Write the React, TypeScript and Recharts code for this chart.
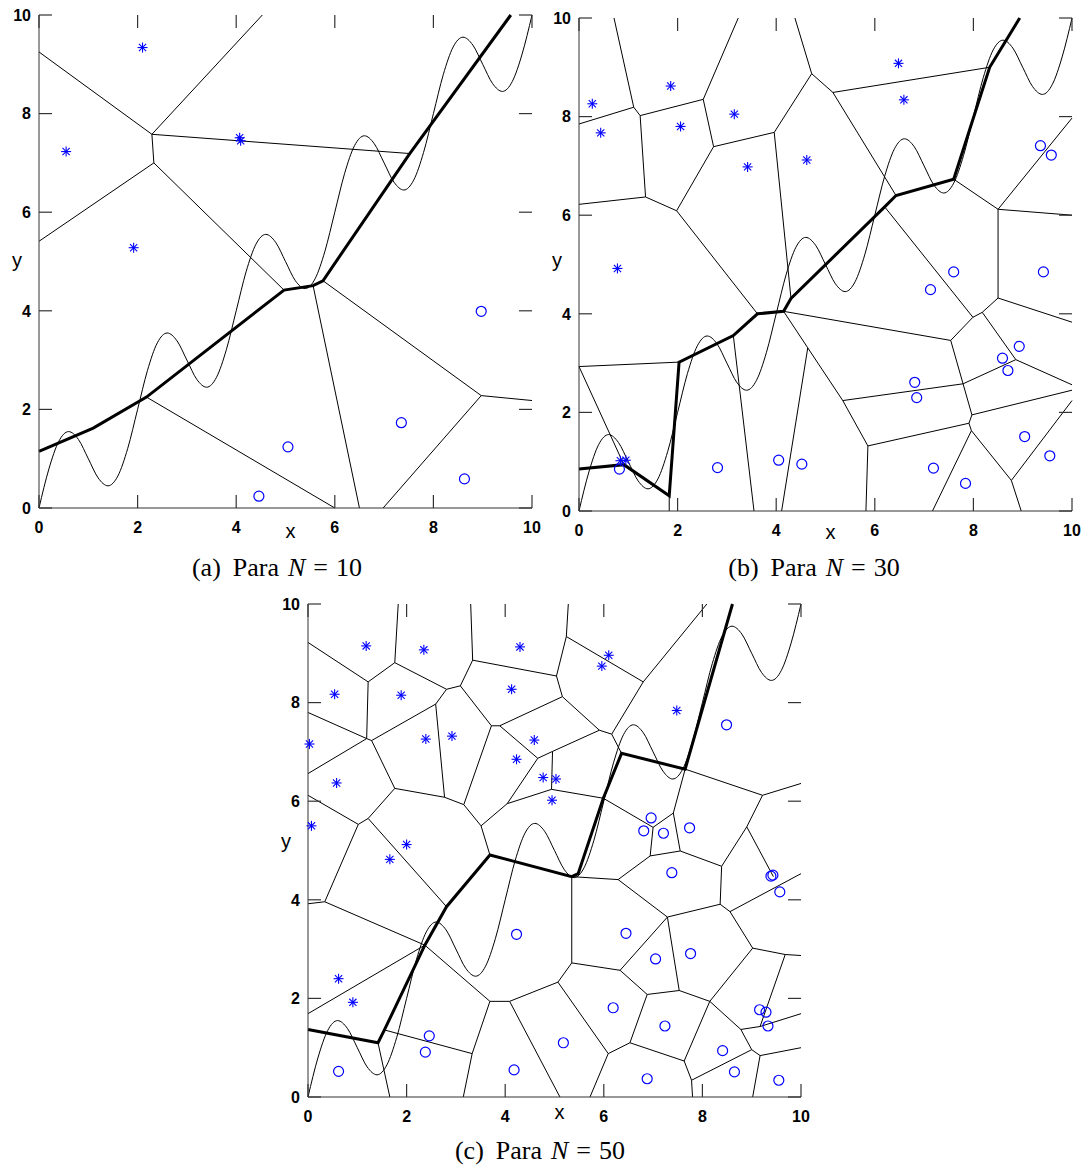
import { ComposedChart, XAxis, YAxis, Line, Scatter, ReferenceLine } from 'recharts'

type Seg = [number, number, number, number]
type Pt = [number, number]

const TICKS = [0, 2, 4, 6, 8, 10]

// thin wavy curve (same in all three panels)
const CURVE_X = [
  0, 0.2, 0.4, 0.6, 0.8, 1, 1.2, 1.4, 1.6, 1.8, 2, 2.2, 2.4, 2.6, 2.8, 3, 3.2, 3.4, 3.6, 3.8, 4, 4.2, 4.4, 4.6, 4.8,
  5, 5.2, 5.4, 5.6, 5.8, 6, 6.2, 6.4, 6.6, 6.8, 7, 7.2, 7.4, 7.6, 7.8, 8, 8.2, 8.4, 8.6, 8.8, 9, 9.2, 9.4, 9.6, 9.8, 10,
]
const CURVE_Y = [
  0, 0.79, 1.35, 1.55, 1.39, 1.0, 0.61, 0.45, 0.65, 1.21, 2.0, 2.79, 3.35, 3.55, 3.39, 3.0, 2.61, 2.45, 2.65, 3.21,
  4.0, 4.79, 5.35, 5.55, 5.39, 5.0, 4.61, 4.45, 4.65, 5.21, 6.0, 6.79, 7.35, 7.55, 7.39, 7.0, 6.61, 6.45, 6.65, 7.21,
  8.0, 8.79, 9.35, 9.55, 9.39, 9.0, 8.61, 8.45, 8.65, 9.21, 10,
]

// ---------- (a) N = 10 ----------
const EDGES_A: Seg[] = [
  [0, 9.25, 2.29, 7.58],
  [2.29, 7.58, 4.53, 10],
  [2.29, 7.58, 7.52, 7.19],
  [2.29, 7.58, 2.33, 7.0],
  [2.33, 7.0, 0, 5.41],
  [2.33, 7.0, 4.97, 4.42],
  [2.18, 2.25, 6.0, 0],
  [5.56, 4.51, 6.5, 0],
  [5.76, 4.61, 8.97, 2.28],
  [8.97, 2.28, 10, 2.18],
  [8.97, 2.28, 6.98, 0],
]
const PATH_A: Pt[] = [
  [0, 1.15], [1.1, 1.62], [2.18, 2.25], [4.97, 4.42], [5.56, 4.51], [5.76, 4.61], [7.52, 7.19], [9.57, 10],
]
const STARS_A: Pt[] = [[0.55, 7.23], [2.1, 9.34], [4.07, 7.51], [4.09, 7.45], [1.92, 5.28]]
const CIRCLES_A: Pt[] = [[8.97, 3.99], [7.35, 1.73], [8.63, 0.59], [5.05, 1.24], [4.46, 0.24]]

// ---------- (b) N = 30 ----------
const EDGES_B: Seg[] = [
  [0.71, 10, 1.11, 8.19],
  [0, 7.85, 1.11, 8.19],
  [1.11, 8.19, 1.24, 8.02],
  [1.24, 8.02, 2.52, 8.35],
  [2.52, 8.35, 3.23, 10],
  [2.52, 8.35, 2.73, 7.39],
  [2.73, 7.39, 3.96, 7.68],
  [3.96, 7.68, 4.72, 8.87],
  [4.72, 8.87, 4.38, 10],
  [4.72, 8.87, 5.15, 8.49],
  [2.73, 7.39, 1.98, 6.09],
  [1.24, 8.02, 1.35, 6.37],
  [1.35, 6.37, 0, 6.22],
  [1.35, 6.37, 1.98, 6.09],
  [1.98, 6.09, 3.62, 4.0],
  [3.96, 7.68, 4.3, 4.31],
  [5.15, 8.49, 8.33, 9.0],
  [5.15, 8.49, 6.43, 6.4],
  [6.2, 6.17, 7.99, 3.93],
  [7.6, 6.73, 8.5, 6.12],
  [8.5, 6.12, 10, 7.97],
  [8.5, 6.12, 10, 6.0],
  [8.5, 6.12, 8.5, 4.32],
  [8.5, 4.32, 10, 3.83],
  [8.5, 4.32, 8.18, 4.03],
  [8.18, 4.03, 7.99, 3.93],
  [7.99, 3.93, 7.54, 3.46],
  [7.54, 3.46, 4.15, 4.05],
  [7.54, 3.46, 7.79, 2.58],
  [7.79, 2.58, 8.86, 3.07],
  [8.86, 3.07, 8.18, 4.03],
  [8.86, 3.07, 10, 2.56],
  [7.79, 2.58, 5.35, 2.24],
  [5.35, 2.24, 4.64, 3.31],
  [4.64, 3.31, 4.15, 4.05],
  [4.64, 3.31, 4.11, 0],
  [5.35, 2.24, 5.86, 1.32],
  [5.86, 1.32, 5.82, 0],
  [5.86, 1.32, 7.91, 1.78],
  [7.91, 1.78, 7.97, 1.95],
  [7.97, 1.95, 7.79, 2.58],
  [7.97, 1.95, 10, 2.45],
  [7.91, 1.78, 7.96, 1.63],
  [7.96, 1.63, 7.17, 0],
  [7.96, 1.63, 8.77, 0.62],
  [8.77, 0.62, 8.97, 0],
  [8.77, 0.62, 10, 2.24],
  [0, 2.93, 2.03, 3.02],
  [0, 2.93, 0.91, 0.94],
  [1.83, 0.31, 1.83, 0],
  [3.13, 3.56, 3.55, 0],
]
const PATH_B: Pt[] = [
  [0, 0.85], [0.91, 0.94], [1.83, 0.31], [2.03, 3.02], [3.13, 3.56], [3.62, 4.0], [4.15, 4.05], [4.3, 4.31],
  [6.2, 6.17], [6.43, 6.4], [7.6, 6.73], [8.33, 9.0], [8.94, 10],
]
const STARS_B: Pt[] = [
  [0.27, 8.26], [0.44, 7.67], [1.86, 8.62], [2.06, 7.8], [3.15, 8.05], [3.42, 6.98], [4.62, 7.12], [6.48, 9.08],
  [6.59, 8.34], [0.78, 4.92], [0.84, 1.02], [0.95, 1.03],
]
const CIRCLES_B: Pt[] = [
  [0.82, 0.85], [2.81, 0.88], [4.05, 1.03], [4.52, 0.95], [9.36, 7.41], [9.58, 7.22], [7.6, 4.85], [7.13, 4.49],
  [9.42, 4.85], [8.93, 3.34], [8.59, 3.1], [8.7, 2.85], [6.81, 2.61], [6.85, 2.3], [9.04, 1.51], [9.55, 1.12],
  [7.19, 0.87], [7.84, 0.56],
]

// ---------- (c) N = 50 ----------
const EDGES_C: Seg[] = [
  [0, 9.22, 1.22, 8.42],
  [1.22, 8.42, 1.76, 8.81],
  [1.76, 8.81, 1.83, 10],
  [1.76, 8.81, 2.81, 8.27],
  [2.81, 8.27, 3.09, 8.34],
  [3.09, 8.34, 3.34, 8.86],
  [3.34, 8.86, 3.3, 10],
  [3.34, 8.86, 5.04, 8.54],
  [1.22, 8.42, 1.19, 7.27],
  [1.19, 7.27, 0, 7.8],
  [1.19, 7.27, 0, 6.56],
  [1.19, 7.27, 1.29, 7.23],
  [1.29, 7.23, 2.59, 7.97],
  [2.59, 7.97, 2.81, 8.27],
  [2.59, 7.97, 2.77, 6.08],
  [1.29, 7.23, 1.76, 6.26],
  [1.76, 6.26, 2.77, 6.08],
  [1.76, 6.26, 1.22, 5.65],
  [1.22, 5.65, 1.02, 5.53],
  [1.02, 5.53, 0, 6.12],
  [1.02, 5.53, 0.34, 3.96],
  [1.22, 5.65, 2.81, 3.86],
  [2.77, 6.08, 3.16, 5.93],
  [3.16, 5.93, 3.72, 7.53],
  [3.72, 7.53, 3.09, 8.34],
  [3.72, 7.53, 3.89, 7.53],
  [3.89, 7.53, 4.66, 6.87],
  [3.89, 7.53, 5.16, 8.12],
  [3.16, 5.93, 3.51, 5.5],
  [3.51, 5.5, 4.04, 5.95],
  [3.51, 5.5, 3.69, 4.91],
  [4.04, 5.95, 4.66, 6.87],
  [4.04, 5.95, 4.94, 6.24],
  [4.66, 6.87, 4.96, 7.01],
  [4.96, 7.01, 5.91, 7.44],
  [4.96, 7.01, 4.94, 6.24],
  [4.94, 6.24, 5.99, 6.06],
  [5.28, 10, 5.24, 9.34],
  [5.24, 9.34, 6.8, 8.42],
  [5.24, 9.34, 5.04, 8.54],
  [5.04, 8.54, 5.16, 8.12],
  [5.16, 8.12, 5.91, 7.44],
  [5.91, 7.44, 6.16, 7.36],
  [6.16, 7.36, 6.8, 8.42],
  [6.8, 8.42, 8.09, 10],
  [6.16, 7.36, 6.36, 6.97],
  [7.65, 6.65, 9.22, 6.12],
  [9.22, 6.12, 10, 6.36],
  [9.22, 6.12, 8.9, 5.48],
  [7.65, 6.65, 7.41, 5.76],
  [7.41, 5.76, 7.0, 5.47],
  [7.0, 5.47, 5.99, 6.06],
  [7.0, 5.47, 6.94, 4.89],
  [7.41, 5.76, 7.55, 4.99],
  [8.9, 5.48, 8.39, 4.68],
  [8.9, 5.48, 9.44, 4.47],
  [0.34, 3.96, 0, 3.92],
  [0.34, 3.96, 2.37, 3.08],
  [0, 1.69, 2.37, 3.08],
  [2.37, 3.08, 3.69, 1.94],
  [3.69, 1.94, 4.09, 1.94],
  [3.69, 1.94, 3.33, 0.88],
  [3.33, 0.88, 3.15, 0],
  [3.33, 0.88, 1.55, 1.36],
  [1.42, 1.1, 1.66, 0],
  [4.09, 1.94, 5.11, 0],
  [4.09, 1.94, 5.07, 2.33],
  [5.35, 4.47, 5.35, 2.72],
  [5.35, 4.47, 6.29, 4.41],
  [6.29, 4.41, 6.94, 4.89],
  [6.94, 4.89, 7.55, 4.99],
  [7.55, 4.99, 8.39, 4.68],
  [8.39, 4.68, 8.36, 3.91],
  [8.36, 3.91, 7.29, 3.65],
  [7.29, 3.65, 6.29, 4.41],
  [8.36, 3.91, 8.56, 3.76],
  [8.56, 3.76, 10, 4.53],
  [8.56, 3.76, 9.02, 3.02],
  [9.02, 3.02, 9.68, 2.89],
  [9.68, 2.89, 10, 2.87],
  [9.02, 3.02, 8.15, 1.94],
  [8.15, 1.94, 7.53, 2.16],
  [7.53, 2.16, 7.29, 3.65],
  [7.53, 2.16, 6.88, 2.08],
  [6.88, 2.08, 6.33, 2.57],
  [6.33, 2.57, 7.29, 3.65],
  [6.33, 2.57, 5.35, 2.72],
  [5.35, 2.72, 5.07, 2.33],
  [5.07, 2.33, 6.09, 0.88],
  [6.09, 0.88, 5.72, 0],
  [6.09, 0.88, 6.53, 1.1],
  [6.53, 1.1, 6.88, 2.08],
  [6.53, 1.1, 7.63, 0.73],
  [7.63, 0.73, 8.15, 1.94],
  [7.63, 0.73, 7.78, 0.34],
  [7.78, 0.34, 7.8, 0],
  [7.78, 0.34, 9.0, 0.96],
  [8.15, 1.94, 8.78, 1.37],
  [8.78, 1.37, 9.0, 0.96],
  [9.0, 0.96, 9.17, 0.84],
  [9.17, 0.84, 9.02, 0],
  [9.17, 0.84, 10, 1.0],
  [8.78, 1.37, 9.17, 1.43],
  [9.17, 1.43, 10, 1.69],
  [9.17, 1.43, 9.68, 2.89],
]
const PATH_C: Pt[] = [
  [0, 1.37], [1.42, 1.1], [1.55, 1.36], [2.37, 3.08], [2.81, 3.86], [3.69, 4.91], [5.35, 4.47], [5.48, 4.53],
  [5.99, 6.06], [6.36, 6.97], [7.65, 6.65], [8.61, 10],
]
const STARS_C: Pt[] = [
  [1.18, 9.15], [2.35, 9.07], [4.3, 9.13], [0.54, 8.17], [1.89, 8.15], [4.13, 8.27], [0.03, 7.16], [2.39, 7.26],
  [2.92, 7.32], [4.59, 7.24], [4.23, 6.85], [4.77, 6.48], [0.58, 6.37], [0.07, 5.5], [2.0, 5.12], [6.1, 8.96],
  [5.96, 8.74], [7.48, 7.84], [5.03, 6.45], [4.95, 6.02], [1.66, 4.82], [0.62, 2.4], [0.91, 1.92],
]
const CIRCLES_C: Pt[] = [
  [8.49, 7.55], [6.96, 5.66], [6.81, 5.4], [7.21, 5.35], [7.74, 5.46], [4.23, 3.3], [2.46, 1.24], [2.38, 0.91],
  [0.62, 0.52], [4.18, 0.55], [7.38, 4.55], [9.39, 4.48], [9.43, 4.5], [9.57, 4.16], [6.45, 3.32], [7.05, 2.8],
  [7.76, 2.91], [6.19, 1.81], [7.24, 1.44], [5.18, 1.1], [8.41, 0.94], [8.65, 0.51], [6.88, 0.37], [9.55, 0.34],
  [9.16, 1.77], [9.29, 1.72], [9.33, 1.44],
]

const FRAME = '#333'
const BLUE = '#0000ff'
const PLOT = 493
const TICK = 13 // inward tick length, px
const SANS = '"Liberation Sans", Arial, sans-serif'
const SERIF = '"Liberation Serif", "Times New Roman", serif'

const curveData = CURVE_X.map((x, i) => ({ x, y: CURVE_Y[i] }))
const toXY = (pts: Pt[]) => pts.map(([x, y]) => ({ x, y }))

// inward tick marks on bottom, top and right; (dx, dy) points into the plot
const frameTicks = [
  ...TICKS.map((t) => ({ x: t, y: 0, dx: 0, dy: -1 })),
  ...TICKS.map((t) => ({ x: t, y: 10, dx: 0, dy: 1 })),
  ...TICKS.map((t) => ({ x: 10, y: t, dx: -1, dy: 0 })),
]

function FrameTick(p: any) {
  const d = p.payload ?? p
  return <line x1={p.cx} y1={p.cy} x2={p.cx + d.dx * TICK} y2={p.cy + d.dy * TICK} stroke={FRAME} strokeWidth={1.2} />
}

function Star(props: any) {
  const { cx, cy } = props
  const d = 3.6
  return (
    <g stroke={BLUE} strokeWidth={1.1}>
      <line x1={cx - 5} y1={cy} x2={cx + 5} y2={cy} />
      <line x1={cx} y1={cy - 5} x2={cx} y2={cy + 5} />
      <line x1={cx - d} y1={cy - d} x2={cx + d} y2={cy + d} />
      <line x1={cx - d} y1={cy + d} x2={cx + d} y2={cy - d} />
    </g>
  )
}

function Ring(props: any) {
  return <circle cx={props.cx} cy={props.cy} r={5} fill="none" stroke={BLUE} strokeWidth={1.2} />
}

function XTick(props: any) {
  return (
    <text x={props.x} y={props.y} dy="0.71em" textAnchor="middle" fontSize={16} fontWeight={700} fontFamily={SANS} fill="#000">
      {props.payload.value}
    </text>
  )
}

function YTick(props: any) {
  return (
    <text x={props.x} y={props.y} dy="0.36em" textAnchor="end" fontSize={16} fontWeight={700} fontFamily={SANS} fill="#000">
      {props.payload.value}
    </text>
  )
}

interface PanelProps {
  left: number
  top: number
  edges: Seg[]
  path: Pt[]
  stars: Pt[]
  circles: Pt[]
  xLetterDy: number
  yLetterDy: number
}

function Panel({ left, top, edges, path, stars, circles, xLetterDy, yLetterDy }: PanelProps) {
  const xLetter = (p: any) => (
    <text x={p.viewBox.x + p.viewBox.width * 0.51} y={p.viewBox.y + xLetterDy} textAnchor="middle" fontSize={20} fontFamily={SANS} fill="#000">
      x
    </text>
  )
  // the y letter, plus the left-side inward ticks laid along the y axis box
  const yLetter = (p: any) => {
    const { x, y, width, height } = p.viewBox
    const ax = x + width
    return (
      <g>
        {TICKS.map((t) => (
          <line key={t} x1={ax} y1={y + height * (1 - t / 10)} x2={ax + TICK} y2={y + height * (1 - t / 10)} stroke={FRAME} strokeWidth={1.2} />
        ))}
        <text x={ax - 22} y={y + yLetterDy} textAnchor="middle" fontSize={20} fontFamily={SANS} fill="#000">
          y
        </text>
      </g>
    )
  }
  return (
    <div style={{ position: 'absolute', left: left - 40, top: top - 10 }}>
      <ComposedChart width={40 + PLOT + 10} height={10 + PLOT + 45} margin={{ top: 10, right: 10, bottom: 5, left: 0 }}>
        <XAxis
          type="number"
          dataKey="x"
          domain={[0, 10]}
          ticks={TICKS}
          interval={0}
          height={40}
          tickSize={0}
          tickMargin={14}
          tick={XTick}
          tickLine={false}
          axisLine={{ stroke: FRAME }}
          label={xLetter}
        />
        <XAxis xAxisId="top" orientation="top" type="number" domain={[0, 10]} height={0} tick={false} tickLine={false} axisLine={{ stroke: FRAME }} />
        <YAxis
          type="number"
          dataKey="y"
          domain={[0, 10]}
          ticks={TICKS}
          interval={0}
          width={40}
          tickSize={0}
          tickMargin={8}
          tick={YTick}
          tickLine={false}
          axisLine={{ stroke: FRAME }}
          label={yLetter}
        />
        <YAxis yAxisId="right" orientation="right" type="number" domain={[0, 10]} width={0} tick={false} tickLine={false} axisLine={{ stroke: FRAME }} />
        {edges.map(([x1, y1, x2, y2], i) => (
          <ReferenceLine
            key={i}
            segment={[{ x: x1, y: y1 }, { x: x2, y: y2 }]}
            stroke="#000"
            strokeWidth={1}
            ifOverflow="visible"
          />
        ))}
        <Scatter data={frameTicks} shape={FrameTick} isAnimationActive={false} />
        <Line data={curveData} dataKey="y" type="monotone" stroke="#000" strokeWidth={1} dot={false} isAnimationActive={false} />
        <Line data={toXY(path)} dataKey="y" type="linear" stroke="#000" strokeWidth={3} dot={false} isAnimationActive={false} />
        <Scatter data={toXY(stars)} shape={Star} isAnimationActive={false} />
        <Scatter data={toXY(circles)} shape={Ring} isAnimationActive={false} />
      </ComposedChart>
    </div>
  )
}

function Caption({ cx, cy, tag, n }: { cx: number; cy: number; tag: string; n: number }) {
  return (
    <div
      style={{
        position: 'absolute',
        left: cx - 150,
        top: cy - 14,
        width: 300,
        lineHeight: '28px',
        textAlign: 'center',
        fontFamily: SERIF,
        fontSize: 26,
        color: '#000',
        whiteSpace: 'pre',
      }}
    >
      {`(${tag})`}
      <span style={{ marginLeft: 12 }}>Para</span>
      <i style={{ marginLeft: 9 }}>N</i>
      <span style={{ margin: '0 8px' }}>=</span>
      {n}
    </div>
  )
}

export default function App() {
  return (
    <div style={{ position: 'absolute', left: 0, top: 0, width: 1085, height: 1167, background: '#fff' }}>
      <Panel left={39.3} top={14.7} edges={EDGES_A} path={PATH_A} stars={STARS_A} circles={CIRCLES_A} xLetterDy={30} yLetterDy={252} />
      <Panel left={578.5} top={18.3} edges={EDGES_B} path={PATH_B} stars={STARS_B} circles={CIRCLES_B} xLetterDy={28} yLetterDy={249} />
      <Panel left={308.3} top={604} edges={EDGES_C} path={PATH_C} stars={STARS_C} circles={CIRCLES_C} xLetterDy={22} yLetterDy={244} />
      <Caption cx={277} cy={568} tag="a" n={10} />
      <Caption cx={814} cy={568} tag="b" n={30} />
      <Caption cx={540} cy={1151} tag="c" n={50} />
    </div>
  )
}
